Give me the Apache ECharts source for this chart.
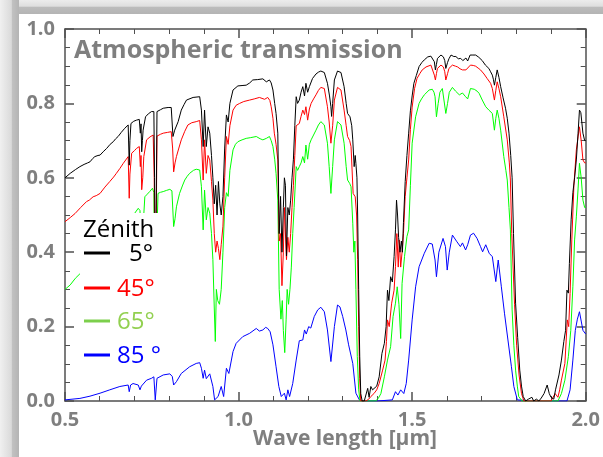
<!DOCTYPE html>
<html>
<head>
<meta charset="utf-8">
<script src="https://cdn.jsdelivr.net/npm/echarts@6/dist/echarts.min.js"></script>
<style>
html,body{margin:0;padding:0;background:#fff;}
#chart{width:603px;height:457px;}
</style>
</head>
<body>
<div id="chart"></div>
<script>
// Series names
var seriesNames = ['5°', '45°', '65°', '85 °'];
var xTicks = ['0.5', '1.0', '1.5', '2.0'];
var yTicks = ['0.0', '0.2', '0.4', '0.6', '0.8', '1.0'];

// Zenith 5° (black)
var zen5 = [[0.500,0.600],[0.515,0.612],[0.530,0.622],[0.543,0.630],[0.555,0.636],[0.565,0.640],[0.572,0.643],[0.580,0.652],[0.586,0.657],[0.595,0.660],[0.601,0.661],[0.610,0.670],[0.620,0.679],[0.630,0.690],[0.639,0.697],[0.646,0.705],[0.653,0.711],[0.662,0.722],[0.672,0.733],[0.682,0.742],[0.685,0.634],[0.687,0.700],[0.690,0.746],[0.698,0.752],[0.706,0.755],[0.714,0.757],[0.717,0.720],[0.719,0.745],[0.721,0.670],[0.723,0.700],[0.725,0.728],[0.732,0.764],[0.740,0.772],[0.749,0.778],[0.756,0.778],[0.758,0.600],[0.760,0.300],[0.762,0.450],[0.765,0.778],[0.775,0.783],[0.783,0.787],[0.797,0.789],[0.806,0.789],[0.811,0.711],[0.816,0.728],[0.826,0.751],[0.835,0.782],[0.843,0.797],[0.850,0.809],[0.869,0.816],[0.888,0.818],[0.893,0.782],[0.898,0.684],[0.902,0.782],[0.907,0.684],[0.912,0.737],[0.917,0.720],[0.922,0.660],[0.926,0.600],[0.930,0.530],[0.934,0.580],[0.938,0.500],[0.942,0.590],[0.946,0.530],[0.950,0.500],[0.955,0.550],[0.960,0.680],[0.965,0.769],[0.970,0.750],[0.975,0.800],[0.984,0.836],[0.998,0.847],[1.010,0.848],[1.022,0.849],[1.032,0.855],[1.041,0.863],[1.055,0.864],[1.070,0.866],[1.080,0.858],[1.089,0.863],[1.094,0.855],[1.099,0.836],[1.104,0.800],[1.108,0.773],[1.113,0.720],[1.117,0.450],[1.121,0.550],[1.125,0.400],[1.129,0.520],[1.132,0.600],[1.135,0.580],[1.138,0.390],[1.142,0.520],[1.146,0.500],[1.150,0.540],[1.154,0.600],[1.158,0.650],[1.162,0.740],[1.166,0.818],[1.170,0.800],[1.175,0.809],[1.180,0.830],[1.185,0.845],[1.190,0.820],[1.194,0.854],[1.199,0.830],[1.204,0.845],[1.213,0.867],[1.223,0.879],[1.230,0.884],[1.237,0.887],[1.247,0.883],[1.256,0.854],[1.262,0.820],[1.266,0.791],[1.268,0.765],[1.271,0.800],[1.276,0.863],[1.285,0.887],[1.290,0.887],[1.295,0.883],[1.304,0.845],[1.310,0.800],[1.314,0.773],[1.321,0.764],[1.326,0.740],[1.329,0.702],[1.333,0.630],[1.336,0.660],[1.338,0.639],[1.341,0.600],[1.343,0.500],[1.346,0.300],[1.349,0.120],[1.352,0.020],[1.356,0.000],[1.362,0.000],[1.367,0.000],[1.372,0.034],[1.376,0.010],[1.381,0.039],[1.386,0.030],[1.391,0.035],[1.398,0.040],[1.405,0.065],[1.413,0.128],[1.420,0.155],[1.425,0.200],[1.429,0.298],[1.433,0.270],[1.438,0.334],[1.443,0.320],[1.448,0.388],[1.452,0.460],[1.455,0.540],[1.458,0.500],[1.461,0.440],[1.465,0.400],[1.469,0.430],[1.472,0.400],[1.475,0.480],[1.480,0.590],[1.485,0.660],[1.490,0.720],[1.495,0.780],[1.500,0.820],[1.505,0.854],[1.512,0.875],[1.520,0.899],[1.528,0.910],[1.535,0.917],[1.545,0.925],[1.554,0.927],[1.559,0.925],[1.564,0.912],[1.567,0.890],[1.570,0.905],[1.573,0.921],[1.583,0.930],[1.590,0.925],[1.594,0.915],[1.597,0.894],[1.602,0.910],[1.606,0.920],[1.612,0.930],[1.620,0.926],[1.626,0.926],[1.633,0.920],[1.640,0.921],[1.646,0.915],[1.650,0.917],[1.655,0.922],[1.660,0.914],[1.667,0.930],[1.675,0.930],[1.683,0.930],[1.692,0.924],[1.702,0.915],[1.711,0.903],[1.716,0.900],[1.721,0.894],[1.726,0.885],[1.731,0.876],[1.734,0.865],[1.737,0.849],[1.741,0.870],[1.745,0.890],[1.750,0.870],[1.755,0.845],[1.762,0.815],[1.769,0.787],[1.774,0.760],[1.779,0.720],[1.784,0.660],[1.788,0.600],[1.792,0.450],[1.798,0.263],[1.804,0.170],[1.810,0.083],[1.815,0.040],[1.820,0.012],[1.827,0.000],[1.835,0.005],[1.840,0.000],[1.845,0.010],[1.850,0.000],[1.858,0.005],[1.865,0.000],[1.872,0.008],[1.880,0.020],[1.889,0.043],[1.895,0.020],[1.900,0.010],[1.908,0.005],[1.913,0.030],[1.918,0.035],[1.923,0.070],[1.930,0.110],[1.937,0.160],[1.942,0.190],[1.946,0.298],[1.950,0.290],[1.953,0.370],[1.958,0.487],[1.963,0.560],[1.968,0.600],[1.973,0.648],[1.978,0.720],[1.982,0.782],[1.986,0.775],[1.992,0.720],[1.997,0.700],[2.000,0.700]];

// Zenith 45° (red)
var zen45 = [[0.500,0.482],[0.515,0.493],[0.529,0.504],[0.545,0.520],[0.562,0.536],[0.570,0.540],[0.581,0.549],[0.590,0.552],[0.601,0.558],[0.615,0.575],[0.629,0.590],[0.640,0.602],[0.648,0.612],[0.658,0.625],[0.668,0.639],[0.675,0.648],[0.682,0.657],[0.685,0.545],[0.687,0.610],[0.692,0.666],[0.700,0.673],[0.706,0.679],[0.714,0.684],[0.717,0.630],[0.719,0.660],[0.721,0.568],[0.724,0.600],[0.727,0.657],[0.735,0.702],[0.745,0.710],[0.754,0.715],[0.757,0.600],[0.760,0.200],[0.762,0.400],[0.765,0.712],[0.775,0.717],[0.783,0.720],[0.795,0.722],[0.806,0.724],[0.810,0.680],[0.813,0.616],[0.817,0.640],[0.821,0.657],[0.828,0.680],[0.835,0.702],[0.845,0.725],[0.854,0.742],[0.865,0.748],[0.878,0.751],[0.888,0.754],[0.893,0.702],[0.898,0.594],[0.902,0.702],[0.907,0.612],[0.912,0.660],[0.917,0.648],[0.922,0.590],[0.926,0.540],[0.930,0.450],[0.934,0.400],[0.938,0.430],[0.942,0.410],[0.946,0.380],[0.950,0.420],[0.955,0.470],[0.960,0.600],[0.965,0.711],[0.970,0.690],[0.975,0.740],[0.984,0.782],[0.993,0.795],[1.003,0.800],[1.015,0.805],[1.032,0.809],[1.045,0.812],[1.060,0.816],[1.075,0.811],[1.084,0.816],[1.090,0.808],[1.094,0.791],[1.099,0.760],[1.103,0.720],[1.108,0.690],[1.113,0.648],[1.117,0.430],[1.121,0.450],[1.125,0.310],[1.129,0.400],[1.132,0.520],[1.135,0.520],[1.138,0.380],[1.142,0.440],[1.146,0.400],[1.150,0.450],[1.154,0.520],[1.158,0.580],[1.162,0.660],[1.166,0.740],[1.170,0.735],[1.175,0.746],[1.180,0.765],[1.185,0.782],[1.190,0.770],[1.194,0.791],[1.199,0.755],[1.204,0.785],[1.209,0.800],[1.216,0.812],[1.223,0.823],[1.230,0.835],[1.237,0.843],[1.247,0.840],[1.256,0.791],[1.261,0.750],[1.266,0.693],[1.271,0.740],[1.276,0.809],[1.285,0.843],[1.290,0.842],[1.295,0.836],[1.304,0.782],[1.310,0.740],[1.314,0.711],[1.320,0.700],[1.324,0.684],[1.330,0.558],[1.336,0.549],[1.340,0.500],[1.343,0.380],[1.346,0.200],[1.349,0.060],[1.352,0.000],[1.360,0.000],[1.367,0.000],[1.375,0.005],[1.381,0.012],[1.390,0.020],[1.398,0.030],[1.405,0.047],[1.415,0.083],[1.422,0.110],[1.426,0.160],[1.429,0.218],[1.434,0.200],[1.441,0.263],[1.448,0.298],[1.452,0.361],[1.456,0.450],[1.460,0.360],[1.463,0.433],[1.467,0.360],[1.471,0.400],[1.475,0.450],[1.480,0.550],[1.485,0.600],[1.490,0.648],[1.495,0.730],[1.500,0.790],[1.507,0.840],[1.514,0.867],[1.522,0.880],[1.529,0.890],[1.540,0.898],[1.554,0.903],[1.559,0.900],[1.564,0.876],[1.567,0.863],[1.570,0.880],[1.573,0.894],[1.583,0.903],[1.590,0.898],[1.594,0.885],[1.597,0.863],[1.602,0.880],[1.606,0.894],[1.616,0.903],[1.625,0.900],[1.631,0.898],[1.638,0.893],[1.645,0.890],[1.650,0.895],[1.655,0.890],[1.660,0.885],[1.668,0.903],[1.676,0.902],[1.683,0.900],[1.690,0.895],[1.697,0.890],[1.707,0.879],[1.716,0.867],[1.726,0.854],[1.731,0.840],[1.737,0.809],[1.741,0.835],[1.745,0.858],[1.750,0.840],[1.755,0.818],[1.764,0.764],[1.774,0.702],[1.780,0.640],[1.783,0.594],[1.787,0.450],[1.795,0.260],[1.801,0.150],[1.808,0.070],[1.815,0.020],[1.822,0.000],[1.860,0.000],[1.900,0.000],[1.905,0.005],[1.912,0.020],[1.920,0.010],[1.925,0.030],[1.930,0.056],[1.940,0.101],[1.947,0.218],[1.951,0.200],[1.955,0.289],[1.960,0.433],[1.966,0.580],[1.973,0.675],[1.978,0.710],[1.982,0.737],[1.987,0.700],[1.992,0.648],[1.997,0.640],[2.000,0.640]];

// Zenith 65° (green)
var zen65 = [[0.500,0.300],[0.515,0.312],[0.530,0.330],[0.543,0.342],[0.560,0.355],[0.580,0.370],[0.600,0.380],[0.620,0.400],[0.640,0.425],[0.660,0.450],[0.680,0.470],[0.685,0.360],[0.690,0.480],[0.701,0.505],[0.711,0.518],[0.716,0.512],[0.721,0.400],[0.725,0.470],[0.730,0.549],[0.737,0.556],[0.744,0.563],[0.752,0.572],[0.756,0.560],[0.760,0.100],[0.763,0.400],[0.768,0.558],[0.775,0.561],[0.783,0.563],[0.792,0.566],[0.802,0.569],[0.808,0.565],[0.813,0.469],[0.817,0.490],[0.821,0.522],[0.830,0.558],[0.838,0.578],[0.845,0.594],[0.852,0.604],[0.859,0.612],[0.870,0.620],[0.878,0.623],[0.888,0.621],[0.893,0.576],[0.898,0.460],[0.902,0.567],[0.907,0.487],[0.912,0.520],[0.917,0.505],[0.922,0.450],[0.926,0.380],[0.930,0.250],[0.933,0.160],[0.936,0.300],[0.940,0.270],[0.945,0.260],[0.950,0.300],[0.955,0.400],[0.960,0.520],[0.965,0.560],[0.970,0.550],[0.975,0.620],[0.984,0.675],[0.991,0.690],[0.998,0.697],[1.010,0.702],[1.022,0.706],[1.035,0.708],[1.051,0.711],[1.062,0.705],[1.070,0.702],[1.080,0.706],[1.089,0.711],[1.094,0.700],[1.099,0.684],[1.104,0.650],[1.108,0.612],[1.113,0.540],[1.117,0.300],[1.122,0.220],[1.126,0.270],[1.129,0.190],[1.133,0.130],[1.137,0.220],[1.140,0.300],[1.144,0.260],[1.148,0.300],[1.152,0.360],[1.156,0.450],[1.160,0.520],[1.166,0.630],[1.170,0.620],[1.175,0.630],[1.180,0.640],[1.185,0.657],[1.190,0.640],[1.194,0.688],[1.199,0.650],[1.204,0.690],[1.209,0.702],[1.216,0.715],[1.223,0.728],[1.230,0.742],[1.237,0.751],[1.247,0.742],[1.256,0.693],[1.261,0.630],[1.266,0.558],[1.271,0.630],[1.276,0.702],[1.285,0.751],[1.290,0.749],[1.295,0.742],[1.304,0.693],[1.310,0.630],[1.314,0.594],[1.320,0.585],[1.324,0.576],[1.329,0.478],[1.332,0.400],[1.335,0.430],[1.338,0.300],[1.342,0.120],[1.346,0.030],[1.350,0.000],[1.370,0.000],[1.395,0.000],[1.403,0.008],[1.410,0.020],[1.420,0.065],[1.429,0.110],[1.438,0.146],[1.445,0.227],[1.452,0.263],[1.457,0.307],[1.462,0.260],[1.467,0.168],[1.471,0.316],[1.478,0.388],[1.485,0.442],[1.490,0.460],[1.495,0.580],[1.500,0.693],[1.510,0.764],[1.520,0.800],[1.527,0.812],[1.535,0.823],[1.549,0.836],[1.558,0.838],[1.563,0.830],[1.566,0.818],[1.570,0.764],[1.575,0.800],[1.580,0.830],[1.587,0.840],[1.592,0.835],[1.597,0.773],[1.602,0.800],[1.607,0.830],[1.616,0.843],[1.625,0.833],[1.636,0.823],[1.645,0.828],[1.654,0.818],[1.660,0.812],[1.668,0.840],[1.679,0.838],[1.687,0.833],[1.693,0.827],[1.702,0.809],[1.712,0.791],[1.721,0.782],[1.731,0.773],[1.737,0.728],[1.741,0.760],[1.745,0.782],[1.750,0.760],[1.755,0.728],[1.764,0.657],[1.770,0.620],[1.774,0.594],[1.779,0.520],[1.783,0.460],[1.788,0.245],[1.793,0.150],[1.798,0.083],[1.803,0.040],[1.807,0.012],[1.817,0.000],[1.870,0.000],[1.920,0.000],[1.930,0.020],[1.940,0.056],[1.950,0.119],[1.957,0.190],[1.963,0.307],[1.968,0.433],[1.973,0.495],[1.978,0.570],[1.982,0.639],[1.987,0.600],[1.992,0.540],[1.997,0.520],[2.000,0.520]];

// Zenith 85° (blue)
var zen85 = [[0.500,0.003],[0.543,0.007],[0.572,0.013],[0.601,0.021],[0.629,0.030],[0.658,0.039],[0.682,0.043],[0.685,0.025],[0.689,0.043],[0.696,0.047],[0.711,0.043],[0.716,0.030],[0.720,0.040],[0.735,0.056],[0.749,0.061],[0.756,0.065],[0.760,0.003],[0.765,0.061],[0.783,0.070],[0.802,0.073],[0.809,0.066],[0.813,0.043],[0.821,0.052],[0.835,0.074],[0.859,0.092],[0.878,0.101],[0.888,0.103],[0.893,0.088],[0.898,0.061],[0.902,0.083],[0.907,0.060],[0.917,0.073],[0.926,0.039],[0.931,0.003],[0.941,0.012],[0.950,0.039],[0.957,0.012],[0.965,0.088],[0.972,0.074],[0.984,0.133],[0.993,0.155],[1.012,0.173],[1.032,0.182],[1.051,0.195],[1.060,0.188],[1.070,0.191],[1.078,0.198],[1.084,0.195],[1.091,0.186],[1.099,0.151],[1.108,0.092],[1.116,0.039],[1.123,0.012],[1.132,0.021],[1.137,0.003],[1.142,0.030],[1.147,0.012],[1.156,0.047],[1.166,0.110],[1.175,0.162],[1.185,0.164],[1.190,0.191],[1.195,0.180],[1.202,0.200],[1.208,0.196],[1.218,0.227],[1.228,0.245],[1.237,0.252],[1.247,0.240],[1.256,0.191],[1.266,0.106],[1.276,0.200],[1.285,0.258],[1.292,0.253],[1.300,0.227],[1.309,0.191],[1.317,0.151],[1.321,0.146],[1.329,0.101],[1.338,0.021],[1.348,0.003],[1.357,0.000],[1.400,0.000],[1.443,0.003],[1.452,0.025],[1.459,0.016],[1.467,0.030],[1.476,0.020],[1.483,0.047],[1.490,0.110],[1.500,0.218],[1.510,0.307],[1.520,0.361],[1.535,0.397],[1.549,0.424],[1.558,0.422],[1.566,0.379],[1.570,0.334],[1.577,0.400],[1.589,0.437],[1.596,0.415],[1.601,0.352],[1.607,0.400],[1.616,0.446],[1.629,0.428],[1.639,0.415],[1.645,0.425],[1.654,0.406],[1.660,0.420],[1.668,0.446],[1.677,0.451],[1.687,0.437],[1.697,0.415],[1.703,0.401],[1.712,0.420],[1.722,0.397],[1.731,0.388],[1.741,0.321],[1.748,0.379],[1.757,0.307],[1.766,0.236],[1.776,0.164],[1.786,0.092],[1.793,0.039],[1.803,0.003],[1.850,0.000],[1.900,0.000],[1.946,0.000],[1.955,0.030],[1.963,0.110],[1.970,0.190],[1.976,0.220],[1.982,0.240],[1.987,0.215],[1.992,0.190],[1.997,0.185],[2.000,0.180]];

var lineColors = ['#000000', '#ff0000', '#00ff00', '#0000ff'];
var legendIconColors = ['#000000', '#ff0000', '#7ccf4c', '#0000ff'];
var legendTextColors = ['#000000', '#ff0000', '#92d050', '#0000ff'];
var allData = [zen5, zen45, zen65, zen85];

var chart = echarts.init(document.getElementById('chart'), null, {renderer: 'canvas'});
var gray = '#7f7f7f';
var axisColor = '#505050';
var lblFont = {color: gray, fontWeight: 'bold', fontSize: 20, fontFamily: 'Open Sans'};

function xAxisDef(pos, showLabel) {
  return {
    type: 'value', position: pos, min: 0.5, max: 2.0, interval: 0.5,
    axisLine: {show: true, onZero: false, lineStyle: {color: axisColor, width: 1.5}},
    axisTick: {show: true, inside: true, length: 9, lineStyle: {color: axisColor, width: 1.5}},
    minorTick: {show: true, splitNumber: 5, length: 5, lineStyle: {color: axisColor, width: 1}},
    splitLine: {show: false},
    axisLabel: Object.assign({show: showLabel, margin: 9, formatter: function (v) {
      var s = v.toFixed(1); return xTicks.indexOf(s) >= 0 ? s : ''; }}, lblFont)
  };
}
function yAxisDef(pos, showLabel) {
  return {
    type: 'value', position: pos, min: 0, max: 1.0, interval: 0.2,
    axisLine: {show: true, onZero: false, lineStyle: {color: axisColor, width: 1.5}},
    axisTick: {show: true, inside: true, length: 9, lineStyle: {color: axisColor, width: 1.5}},
    minorTick: {show: true, splitNumber: 4, length: 5, lineStyle: {color: axisColor, width: 1}},
    splitLine: {show: false},
    axisLabel: Object.assign({show: showLabel, margin: 10, formatter: function (v) {
      var s = v.toFixed(1); return yTicks.indexOf(s) >= 0 ? s : ''; }}, lblFont)
  };
}

var series = [];
for (var i = allData.length - 1; i >= 0; i--) {
  series.push({
    name: seriesNames[i], type: 'line', data: allData[i], xAxisIndex: 0, yAxisIndex: 0,
    showSymbol: false, symbol: 'none', z: 5 + (3 - i),
    lineStyle: {color: lineColors[i], width: 1}, itemStyle: {color: lineColors[i]},
    clip: true
  });
}

// Legend graphic (white box with header)
var legendY = [253, 288, 321, 355];
var legendTextX = [129, 117, 117, 117];
var graphics = [
  // frame shadow
  {type: 'rect', left: 0, top: 0, z: 0, shape: {width: 603, height: 14},
    style: {fill: new echarts.graphic.LinearGradient(0, 0, 0, 1, [
      {offset: 0, color: '#ececec'}, {offset: 0.45, color: '#dedede'},
      {offset: 0.5, color: '#bcbcbc'}, {offset: 1, color: '#b4b4b4'}])}},
  {type: 'rect', left: 0, top: 0, z: 0, shape: {width: 19, height: 457},
    style: {fill: new echarts.graphic.LinearGradient(0, 0, 1, 0, [
      {offset: 0, color: '#f0f0f0'}, {offset: 0.6, color: '#dadada'},
      {offset: 0.63, color: '#c2c2c2'}, {offset: 1, color: '#b4b4b4'}])}},
  // legend box
  {type: 'rect', z: 50, shape: {x: 80, y: 213, width: 92, height: 157}, style: {fill: '#ffffff'}},
  {type: 'text', z: 51, x: 83, y: 230, style: {text: 'Zénith', fill: '#000000', font: '24px "Open Sans"', textVerticalAlign: 'middle', verticalAlign: 'middle'}},
  // title
  {type: 'text', z: 51, x: 74, y: 51, style: {text: 'Atmospheric transmission', fill: gray, font: 'bold 25px "Open Sans"', textVerticalAlign: 'middle', verticalAlign: 'middle'}},
  // x axis name
  {type: 'text', z: 51, x: 345, y: 439, style: {text: 'Wave length [µm]', fill: gray, font: 'bold 21px "Open Sans"', textAlign: 'center', align: 'center', textVerticalAlign: 'middle', verticalAlign: 'middle'}}
];
for (var k = 0; k < seriesNames.length; k++) {
  graphics.push({type: 'line', z: 51, shape: {x1: 84, y1: legendY[k], x2: 110, y2: legendY[k]},
    style: {stroke: legendIconColors[k], lineWidth: 3}});
  graphics.push({type: 'text', z: 51, x: legendTextX[k], y: legendY[k] + 1,
    style: {text: seriesNames[k], fill: legendTextColors[k], font: '24px "Open Sans"', textVerticalAlign: 'middle', verticalAlign: 'middle'}});
}

chart.setOption({
  animation: false,
  backgroundColor: '#ffffff',
  grid: {left: 65, top: 29, width: 522, height: 372, containLabel: false},
  xAxis: [xAxisDef('bottom', true), xAxisDef('top', false)],
  yAxis: [yAxisDef('left', true), yAxisDef('right', false)],
  series: series,
  graphic: graphics
});
</script>
</body>
</html>
